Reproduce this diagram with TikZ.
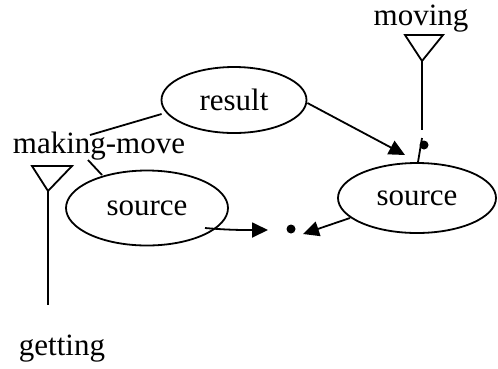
\documentclass[tikz,border=0pt]{standalone}
\usepackage{fontspec}
\setmainfont{Liberation Serif}
\usetikzlibrary{shapes.geometric,arrows.meta}
\begin{document}
\begin{tikzpicture}[x=1pt,y=-1pt,
  every node/.style={font=\fontsize{31}{36}\selectfont},
  ell/.style={draw,ellipse,line width=1.8pt,inner sep=0pt},
  lbl/.style={inner sep=0pt,anchor=base},
  dot/.style={circle,fill,inner sep=0pt,minimum size=9pt},
  con/.style={line width=1.8pt},
  arr/.style={con,-{Triangle[length=16pt,width=15pt]}},
  tri/.style={line width=1.8pt,line join=miter}]
\useasboundingbox (0,0) rectangle (498,368);
\node[ell,minimum width=145pt,minimum height=66pt] (result) at (234,100) {result};
\node[ell,minimum width=162pt,minimum height=75pt] (srcL) at (147,208) {source};
\node[ell,minimum width=158pt,minimum height=70pt] (srcR) at (417,198) {source};
\node[dot] (d1) at (424,145) {};
\node[dot] (d2) at (291,229) {};
\node[lbl] (mm) at (99,153) {making-move};
\node[lbl] (mov) at (421,25) {moving};
\node[lbl] (get) at (62,355) {getting};
% triangles and stems
\coordinate (t1a) at (405,35);
\coordinate (t1b) at (443,35);
\coordinate (t1c) at (422,61);
\coordinate (s1) at (422,130);
\draw[tri] (t1a) -- (t1b) -- (t1c) -- cycle;
\draw[con] (t1c) -- (s1);
\coordinate (t2a) at (32,166);
\coordinate (t2b) at (72,166);
\coordinate (t2c) at (48,191);
\coordinate (s2) at (48,305);
\draw[tri] (t2a) -- (t2b) -- (t2c) -- cycle;
\draw[con] (t2c) -- (s2);
% connectors
\draw[arr] (result.east) ++(0,3) -- ([xshift=-19pt,yshift=-10pt]d1.center);
\draw[con] (result.west) ++(1,14) -- (90,135);
\draw[con] (88,160) -- (102,175);
\draw[arr] (205,228) to[out=-5,in=180] ([xshift=-23pt,yshift=-1pt]d2.center);
\draw[arr] (350,218) -- ([xshift=12pt,yshift=-5pt]d2.center);
\draw[con] ([xshift=-2pt,yshift=7pt]d1.center) -- ([xshift=1pt]srcR.north);
\end{tikzpicture}
\end{document}
